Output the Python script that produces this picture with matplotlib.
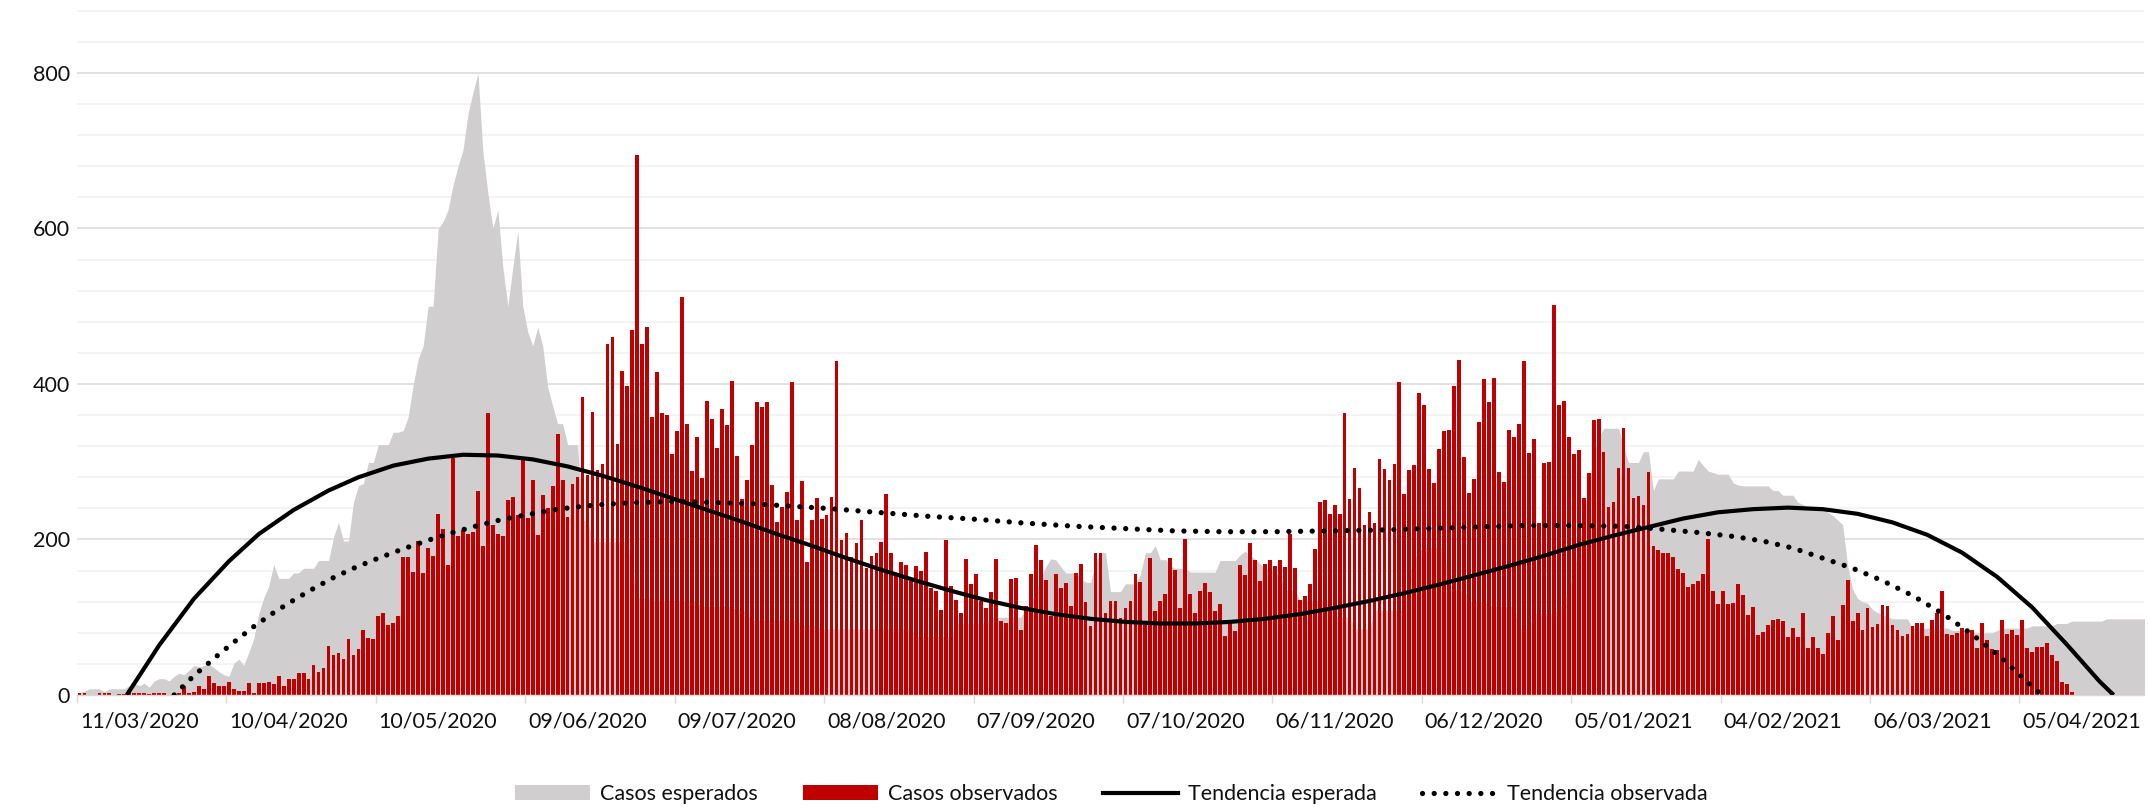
import datetime as dt
import matplotlib
matplotlib.use("Agg")
import matplotlib.pyplot as plt
from matplotlib.patches import Patch
from matplotlib.lines import Line2D

plt.rcParams['font.family'] = ['Lato', 'DejaVu Sans']

# first day of the series (index 0)
start_date = dt.date(2020, 2, 28)

# daily expected cases (grey area), day 0 .. 415
casos_esperados = [
    3, 5, 8, 8, 8, 4, 8, 8, 8, 8,
    12, 15, 12, 15, 10, 18, 21, 21, 18, 24,
    28, 26, 32, 38, 36, 38, 39, 35, 30, 26,
    24, 41, 46, 38, 55, 73, 105, 125, 140, 168,
    150, 150, 150, 157, 157, 163, 163, 163, 173, 173,
    173, 203, 222, 198, 198, 248, 269, 272, 299, 299,
    322, 322, 322, 338, 338, 340, 358, 399, 432, 449,
    500, 500, 599, 609, 624, 656, 680, 701, 748, 775,
    800, 698, 645, 600, 624, 550, 500, 550, 597, 500,
    467, 449, 473, 449, 396, 372, 349, 349, 322, 322,
    322, 225, 225, 197, 197, 197, 197, 197, 197, 197,
    197, 160, 126, 124, 124, 122, 122, 122, 122, 122,
    122, 122, 122, 122, 118, 114, 114, 114, 114, 114,
    114, 112, 110, 110, 105, 96, 96, 96, 96, 96,
    96, 96, 96, 96, 96, 90, 90, 90, 88, 85,
    85, 85, 85, 85, 85, 85, 85, 85, 85, 85,
    85, 85, 85, 85, 85, 85, 85, 85, 75, 75,
    75, 75, 75, 75, 75, 75, 92, 92, 92, 92,
    92, 92, 92, 100, 100, 100, 100, 100, 100, 100,
    110, 120, 131, 150, 165, 175, 174, 165, 157, 157,
    157, 150, 145, 145, 170, 183, 183, 133, 133, 133,
    143, 143, 143, 155, 183, 183, 192, 174, 174, 166,
    163, 163, 163, 158, 158, 158, 158, 158, 158, 173,
    173, 173, 173, 180, 185, 180, 175, 169, 163, 160,
    157, 154, 136, 133, 135, 122, 122, 122, 122, 122,
    122, 122, 100, 100, 100, 100, 85, 85, 85, 85,
    109, 109, 109, 109, 109, 109, 109, 156, 175, 185,
    190, 190, 190, 190, 190, 135, 135, 135, 135, 120,
    120, 120, 120, 114, 114, 114, 114, 114, 114, 85,
    85, 85, 105, 105, 105, 105, 105, 110, 120, 135,
    160, 190, 230, 270, 310, 330, 343, 343, 343, 343,
    320, 299, 299, 299, 313, 313, 263, 278, 278, 278,
    278, 288, 288, 288, 288, 303, 295, 288, 286, 284,
    284, 284, 273, 270, 269, 269, 269, 269, 269, 269,
    263, 263, 257, 257, 257, 248, 245, 242, 241, 241,
    241, 235, 231, 225, 219, 166, 136, 124, 120, 118,
    110, 106, 103, 101, 98, 98, 98, 98, 86, 86,
    86, 86, 86, 83, 86, 86, 83, 83, 83, 83,
    80, 80, 80, 80, 80, 83, 86, 86, 86, 86,
    86, 86, 89, 89, 89, 89, 89, 92, 92, 92,
    95, 95, 95, 95, 95, 95, 95, 98, 98, 98,
    98, 98, 98, 98, 98, 98,
]

# daily observed cases (red bars), day 0 .. 400
casos_observados = [
    3, 2, 0, 0, 2, 2, 3, 0, 1, 1,
    2, 3, 2, 2, 1, 3, 3, 3, 0, 3,
    3, 11, 2, 4, 11, 8, 24, 15, 11, 12,
    17, 8, 5, 5, 16, 3, 15, 16, 17, 14,
    25, 11, 20, 21, 28, 28, 21, 38, 30, 35,
    63, 52, 54, 46, 72, 52, 59, 83, 73, 72,
    102, 106, 90, 93, 102, 177, 177, 158, 198, 157,
    189, 179, 233, 214, 167, 305, 205, 212, 207, 210,
    263, 192, 363, 219, 207, 204, 251, 255, 232, 302,
    228, 276, 206, 257, 241, 269, 336, 277, 229, 271,
    281, 383, 283, 364, 290, 297, 451, 460, 323, 417,
    397, 469, 695, 452, 473, 357, 415, 363, 360, 310,
    339, 512, 348, 288, 332, 279, 378, 355, 318, 368,
    347, 404, 307, 252, 277, 322, 377, 370, 377, 270,
    223, 242, 261, 403, 225, 275, 171, 225, 254, 226,
    232, 255, 429, 199, 208, 177, 195, 225, 163, 179,
    182, 197, 258, 182, 154, 171, 167, 147, 166, 160,
    184, 138, 134, 109, 199, 140, 122, 105, 175, 143,
    156, 121, 112, 133, 175, 95, 92, 149, 151, 83,
    115, 156, 193, 174, 148, 101, 156, 137, 144, 114,
    157, 169, 119, 89, 183, 182, 106, 121, 121, 99,
    112, 121, 155, 145, 90, 176, 108, 121, 130, 176,
    161, 112, 200, 130, 106, 134, 144, 132, 108, 117,
    76, 92, 82, 167, 154, 196, 174, 146, 169, 173,
    166, 174, 164, 207, 163, 122, 127, 143, 188, 248,
    251, 233, 245, 233, 363, 252, 292, 266, 219, 235,
    221, 303, 291, 277, 297, 403, 259, 290, 296, 389,
    373, 291, 273, 316, 340, 341, 397, 431, 306, 260,
    278, 351, 406, 377, 408, 287, 274, 341, 332, 348,
    429, 311, 329, 221, 298, 300, 501, 373, 378, 332,
    310, 315, 254, 285, 354, 355, 312, 242, 248, 292,
    343, 292, 254, 256, 244, 287, 191, 187, 182, 183,
    178, 162, 157, 139, 143, 146, 156, 201, 134, 117,
    134, 117, 118, 143, 129, 103, 113, 77, 81, 90,
    97, 98, 95, 75, 86, 75, 105, 60, 75, 60,
    53, 80, 101, 71, 116, 148, 95, 105, 83, 112,
    87, 91, 116, 114, 90, 84, 76, 79, 89, 92,
    92, 76, 96, 105, 134, 79, 77, 80, 86, 84,
    83, 61, 93, 71, 59, 58, 96, 79, 83, 77,
    97, 60, 55, 62, 62, 67, 52, 44, 17, 14,
    4,
]

# trend lines (day index, value)
tend_esp_dias = [9.5, 16, 23, 30, 36, 43, 50, 56, 63, 70, 77, 84, 91, 98, 105,
                 112, 119, 126, 133, 140, 147, 154, 161, 168, 175, 182, 189,
                 196, 203, 210, 217, 224, 231, 238, 245, 252, 259, 266, 273,
                 280, 287, 294, 301, 308, 315, 322, 329, 336, 343, 350, 357,
                 364, 371, 378, 385, 392, 399, 405.5, 408.4]
tend_esp_vals = [0, 64, 124, 172, 207, 238, 263, 280, 295, 304, 309, 308, 303,
                 294, 282, 268, 253, 238, 223, 207, 192, 176, 161, 147, 134,
                 122, 112, 104, 98, 94, 92, 92, 94, 98, 104, 112, 121, 131, 142,
                 154, 166, 179, 193, 205, 216, 227, 235, 239, 241, 239, 233,
                 222, 206, 183, 152, 113, 65, 18, 0]

tend_obs_dias = [19, 23, 27, 31, 35, 39, 43, 47, 51, 55, 60, 65, 70, 75, 80, 85,
                 90, 95, 100, 105, 110, 115, 120, 125, 130, 135, 140, 145, 150,
                 160, 170, 180, 190, 200, 210, 220, 230, 240, 250, 260, 270,
                 280, 290, 300, 310, 318, 325, 332, 338, 344, 350, 356, 362,
                 368, 374, 380, 386, 391, 394]
tend_obs_vals = [0, 25, 47, 68, 88, 106, 122, 137, 151, 163, 176, 188, 199, 209,
                 218, 226, 232, 238, 242, 245, 247, 248, 249, 248, 247, 246,
                 244, 242, 240, 235, 230, 226, 221, 217, 214, 211, 210, 210,
                 211, 212, 214, 216, 218, 218, 217, 213, 209, 204, 198, 189,
                 176, 163, 147, 128, 105, 78, 47, 17, 0]

tick_labels = ['11/03/2020', '10/04/2020', '10/05/2020', '09/06/2020',
               '09/07/2020', '08/08/2020', '07/09/2020', '07/10/2020',
               '06/11/2020', '06/12/2020', '05/01/2021', '04/02/2021',
               '06/03/2021', '05/04/2021']

legend_labels = ['Casos esperados', 'Casos observados',
                 'Tendencia esperada', 'Tendencia observada']

grey = '#d0cece'
red = '#c00000'
fs = 15.5

fig = plt.figure(figsize=(21.49, 8.09), dpi=100)
ax = fig.add_axes([77 / 2149, 114 / 809, 2067 / 2149, 685 / 809])

dias_esp = list(range(len(casos_esperados)))
dias_obs = list(range(len(casos_observados)))

ax.fill_between(dias_esp, casos_esperados, color=grey, lw=0, zorder=1)
ax.bar(dias_obs, casos_observados, width=0.76, color=red, lw=0, zorder=2)
ax.plot(tend_esp_dias, tend_esp_vals, color='black', lw=3, zorder=3,
        solid_capstyle='butt', solid_joinstyle='round')
ax.plot(tend_obs_dias, tend_obs_vals, color='black', lw=3.8, zorder=4,
        linestyle=(0, (0.01, 2.2)), dash_capstyle='round')

ax.set_xlim(-0.5, 414.5)
ax.set_ylim(0, 881)

# y axis: labels every 200, light lines every 40
ax.set_yticks(range(0, 801, 200))
ax.set_yticks(range(40, 881, 40), minor=True)
ax.tick_params(axis='y', which='both', length=0, pad=5, labelsize=fs,
               labelcolor='#111111')
ax.grid(axis='y', which='major', color='#d9d9d9', lw=1.1)
ax.grid(axis='y', which='minor', color='#f0f0f0', lw=1.1)
ax.set_axisbelow(True)

# x axis: tick marks every 30 days, labels between them
label_pos = [(dt.datetime.strptime(t, '%d/%m/%Y').date() - start_date).days
             for t in tick_labels]
ax.set_xticks([d - 0.5 for d in range(0, 391, 30)])
ax.set_xticklabels([])
ax.set_xticks(label_pos, minor=True)
ax.set_xticklabels(tick_labels, minor=True)
ax.tick_params(axis='x', which='major', length=6, width=1, color='#d9d9d9')
ax.tick_params(axis='x', which='minor', length=0, pad=12, labelsize=fs,
               labelcolor='#111111')

for s in ['top', 'right', 'left']:
    ax.spines[s].set_visible(False)
ax.spines['bottom'].set_color('#d9d9d9')
ax.spines['bottom'].set_linewidth(1)

handles = [Patch(facecolor=grey), Patch(facecolor=red),
           Line2D([], [], color='black', lw=3),
           Line2D([], [], color='black', lw=3.8, linestyle=(0, (0.01, 2.2)),
                  dash_capstyle='round')]
fig.legend(handles, legend_labels, loc='center', bbox_to_anchor=(0.517, 0.018),
           ncol=4, frameon=False, fontsize=fs, handlelength=3.5,
           handletextpad=0.45, columnspacing=2.1, labelcolor='#111111')

fig.savefig('out.png', dpi=100)
